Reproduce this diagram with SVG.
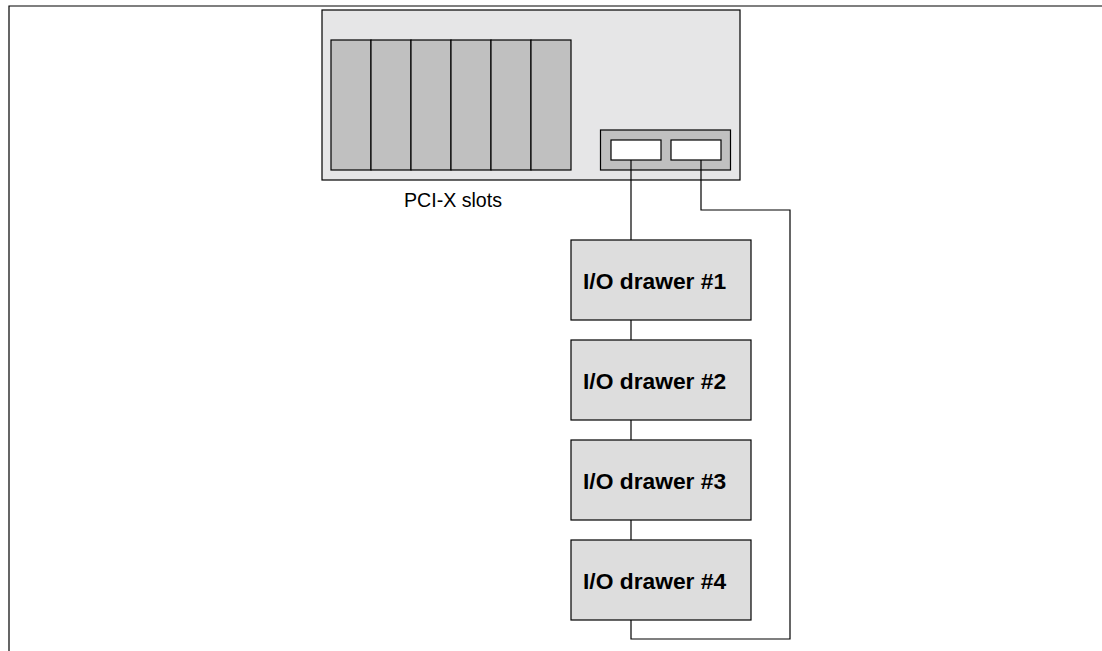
<svg xmlns="http://www.w3.org/2000/svg" width="1102" height="651" viewBox="0 0 1102 651">
<style>
.frame{fill:none;stroke:#000;stroke-width:1.2}
.chassis{fill:#e6e6e7;stroke:#000;stroke-width:1.2}
.slot{fill:#c0c0c0;stroke:#000;stroke-width:1.2}
.port{fill:#fff;stroke:#000;stroke-width:1.2}
.drawer{fill:#dddddd;stroke:#000;stroke-width:1.2}
.conn{fill:none;stroke:#000;stroke-width:1.2}
.lbl{font-family:"Liberation Sans",Arial,sans-serif;font-size:19.6px;fill:#000}
.dlbl{font-family:"Liberation Sans",Arial,sans-serif;font-size:22.8px;font-weight:bold;fill:#000}
</style>
<rect width="1102" height="651" fill="#fff"/>
<path class="frame" d="M9,651 V6 H1102"/>
<g id="chassis">
<rect class="chassis" x="322" y="10" width="418" height="170"/>
<rect class="slot" x="331" y="40" width="40" height="130"/>
<rect class="slot" x="371" y="40" width="40" height="130"/>
<rect class="slot" x="411" y="40" width="40" height="130"/>
<rect class="slot" x="451" y="40" width="40" height="130"/>
<rect class="slot" x="491" y="40" width="40" height="130"/>
<rect class="slot" x="531" y="40" width="40" height="130"/>
<rect class="slot" x="600.5" y="130" width="130" height="40"/>
<rect class="port" x="611" y="140" width="50" height="20"/>
<rect class="port" x="671" y="140" width="50" height="20"/>
<text class="lbl" x="404" y="207">PCI-X slots</text>
</g>
<g id="connectors">
<path class="conn" d="M631,160 V240"/>
<path class="conn" d="M631,320 V340"/>
<path class="conn" d="M631,420 V440"/>
<path class="conn" d="M631,520 V540"/>
<path class="conn" d="M701,160 V210 H790 V639 H631 V620"/>
</g>
<g id="drawer1">
<rect class="drawer" x="571" y="240" width="180" height="80"/>
<text class="dlbl" x="583" y="289">I/O drawer #1</text>
</g>
<g id="drawer2">
<rect class="drawer" x="571" y="340" width="180" height="80"/>
<text class="dlbl" x="583" y="389">I/O drawer #2</text>
</g>
<g id="drawer3">
<rect class="drawer" x="571" y="440" width="180" height="80"/>
<text class="dlbl" x="583" y="489">I/O drawer #3</text>
</g>
<g id="drawer4">
<rect class="drawer" x="571" y="540" width="180" height="80"/>
<text class="dlbl" x="583" y="589">I/O drawer #4</text>
</g>
</svg>
